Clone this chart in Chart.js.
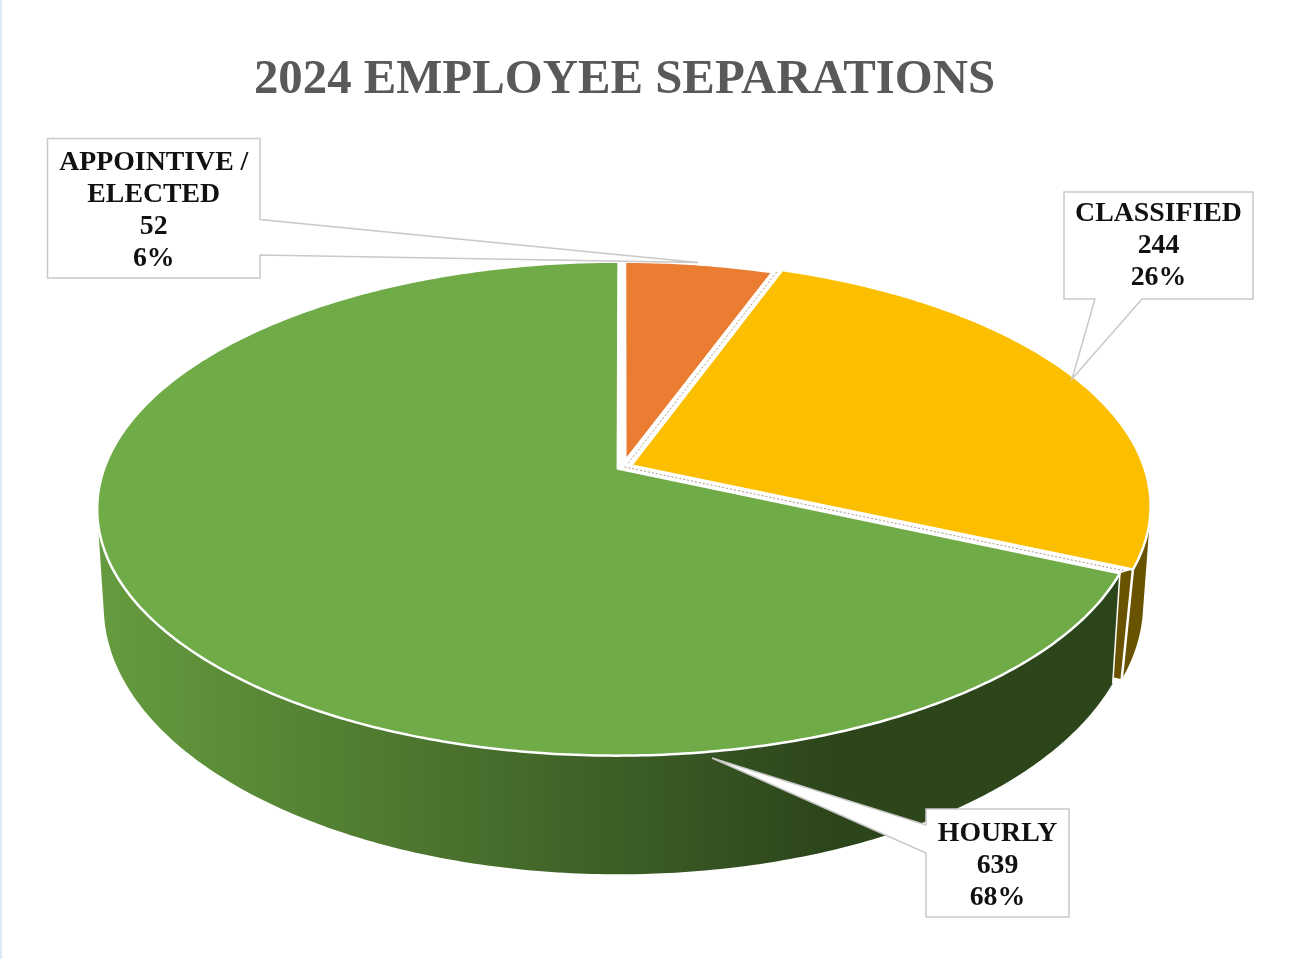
<!DOCTYPE html>
<html>
<head>
<meta charset="utf-8">
<title>2024 Employee Separations</title>
<script src="https://cdn.jsdelivr.net/npm/chart.js@4"></script>
<style>
  html, body { margin: 0; padding: 0; background: #fff; }
  body { width: 1299px; height: 959px; overflow: hidden; position: relative; }
  body::before { content: ""; position: absolute; left: 0; top: 0; bottom: 0; width: 2px; background: #dce9f8; }
  canvas { position: absolute; left: 0; top: 0; }
</style>
</head>
<body>
<canvas id="chart" width="1299" height="959"></canvas>
<script>
// Separation counts by employee category
const categories = ['APPOINTIVE / ELECTED', 'CLASSIFIED', 'HOURLY'];
const labelLines = [['APPOINTIVE /', 'ELECTED'], ['CLASSIFIED'], ['HOURLY']];
const separations = [52, 244, 639];

const sliceColors = ['#EA7D31', '#FBBF00', '#6FAB47'];
const sliceExplode = [10.4, 6.8, 4.8];
const rimScale = [0.967, 1, 1];

const FONT = '"Liberation Serif", "Times New Roman", serif';
const WALL_DARK = '#6A5300';

// Perspective projections of the pie's top face and bottom face
const topFace = { cx: 623, cy: 467, a: 513.1, b: 240, k: 0.162 };
const baseFace = { cx: 624.5, cy: 568.3, a: 510.4, b: 263, k: 0.134 };
const yellowBaseFace = { cx: 620.5, cy: 568.3, a: 510.4, b: 263, k: 0.134 };

// Callout boxes: frame plus the wedge pointing at the slice
const callouts = [
  { box: [47.5, 138.5, 260, 278], lineY: 163, pointer: [[260, 255], [698, 262.5], [260, 219.5]], side: 'right' },
  { box: [1064, 192, 1253, 299], lineY: 214, pointer: [[1142, 299], [1072, 379], [1095, 299]], side: 'bottom' },
  { box: [926, 809, 1069, 917], lineY: 834, pointer: [[926, 825], [712, 758], [926, 853]], side: 'left' }
];

function project(u, v, f) {
  const d = 1 - f.k * v;
  return [f.cx + f.a * u / d, f.cy + f.b * v / d];
}

// Maps a library arc angle to a point of the slice on a given face
function slicePoint(arc, i, clock, f, radial) {
  const e = arc.options.offset / arc.outerRadius;
  const mid = (arc.startAngle + arc.endAngle) / 2 + Math.PI / 2;
  const t = clock + Math.PI / 2;
  const r = radial * rimScale[i];
  return project(e * Math.sin(mid) + r * Math.sin(t), -e * Math.cos(mid) - r * Math.cos(t), f);
}

function addPolygon(ctx, pts) {
  pts.forEach((p, n) => (n ? ctx.lineTo(p[0], p[1]) : ctx.moveTo(p[0], p[1])));
  ctx.closePath();
}

function tracePoints(ctx, pts) {
  ctx.beginPath();
  addPolygon(ctx, pts);
}

function rimPoints(arc, i, from, to, f) {
  const steps = Math.max(8, Math.ceil(Math.abs(to - from) * 90));
  const pts = [];
  for (let s = 0; s <= steps; s++) pts.push(slicePoint(arc, i, from + (to - from) * s / steps, f, 1));
  return pts;
}

function drawTopFace(ctx, arc, i) {
  const pts = [slicePoint(arc, i, arc.startAngle, topFace, 0)]
    .concat(rimPoints(arc, i, arc.startAngle, arc.endAngle, topFace));
  tracePoints(ctx, pts);
  ctx.fillStyle = arc.options.backgroundColor;
  ctx.fill();
  ctx.strokeStyle = arc.options.borderColor;
  ctx.lineWidth = arc.options.borderWidth;
  ctx.lineJoin = 'round';
  ctx.stroke();
}

function signedArea(pts) {
  let s = 0;
  pts.forEach((p, n) => {
    const q = pts[(n + 1) % pts.length];
    s += p[0] * q[1] - q[0] * p[1];
  });
  return s;
}

// Side wall: one path of consistently wound quads, so the fill has no seams
function drawWall(ctx, arc, i, from, to, fill, base) {
  const a = rimPoints(arc, i, from, to, topFace);
  const b = rimPoints(arc, i, from, to, base);
  ctx.beginPath();
  for (let n = 0; n < a.length - 1; n++) {
    const quad = [a[n], a[n + 1], b[n + 1], b[n]];
    addPolygon(ctx, signedArea(quad) < 0 ? quad.reverse() : quad);
  }
  ctx.fillStyle = fill;
  ctx.fill('nonzero');
}

function drawEdgeLine(ctx, p, q, width) {
  ctx.beginPath();
  ctx.moveTo(p[0], p[1]);
  ctx.lineTo(q[0], q[1]);
  ctx.strokeStyle = '#fff';
  ctx.lineWidth = width;
  ctx.stroke();
}

// White slit between neighbouring slices with a faint dashed seam down its middle
function drawSlit(ctx, arcA, ia, arcB, ib, angle) {
  const a0 = slicePoint(arcA, ia, angle, topFace, 0);
  const a1 = slicePoint(arcA, ia, angle, topFace, 1);
  const b0 = slicePoint(arcB, ib, angle, topFace, 0);
  const b1 = slicePoint(arcB, ib, angle, topFace, 1);
  tracePoints(ctx, [a0, a1, b1, b0]);
  ctx.fillStyle = '#fff';
  ctx.fill();
  ctx.save();
  ctx.beginPath();
  ctx.moveTo((a0[0] + b0[0]) / 2, (a0[1] + b0[1]) / 2);
  ctx.lineTo((a1[0] + b1[0]) / 2, (a1[1] + b1[1]) / 2);
  ctx.setLineDash([2, 2]);
  ctx.strokeStyle = 'rgba(110,85,60,0.6)';
  ctx.lineWidth = 1;
  ctx.stroke();
  ctx.restore();
}

const pie3d = {
  id: 'pie3d',
  beforeDatasetsDraw(chart) {
    const ctx = chart.ctx;
    const [orange, yellow, green] = chart.getDatasetMeta(0).data;
    ctx.save();

    // Yellow slice: cut face, outer wall, then its top
    const cutAngle = yellow.endAngle;
    tracePoints(ctx, [
      slicePoint(yellow, 1, cutAngle, topFace, 0),
      slicePoint(yellow, 1, cutAngle, topFace, 1),
      slicePoint(yellow, 1, cutAngle, yellowBaseFace, 1),
      slicePoint(yellow, 1, cutAngle, yellowBaseFace, 0)
    ]);
    ctx.fillStyle = WALL_DARK;
    ctx.fill();
    drawWall(ctx, yellow, 1, yellow.startAngle + 0.6, cutAngle, WALL_DARK, yellowBaseFace);
    drawEdgeLine(ctx, slicePoint(yellow, 1, cutAngle, topFace, 1), slicePoint(yellow, 1, cutAngle, yellowBaseFace, 1), 2.5);
    drawTopFace(ctx, yellow, 1);
    drawTopFace(ctx, orange, 0);

    // Green slice: shaded wall across the front, then its top
    const shade = ctx.createLinearGradient(105, 0, 830, 0);
    shade.addColorStop(0, '#659B3E');
    shade.addColorStop(1, '#2C451B');
    drawWall(ctx, green, 2, green.startAngle, green.startAngle + 3.4, shade, baseFace);
    drawEdgeLine(ctx, slicePoint(green, 2, green.startAngle, topFace, 1), slicePoint(green, 2, green.startAngle, baseFace, 1), 1.5);
    drawSlit(ctx, yellow, 1, green, 2, yellow.endAngle);
    drawTopFace(ctx, green, 2);
    drawSlit(ctx, orange, 0, yellow, 1, orange.endAngle);

    ctx.restore();
    return false;
  },
  afterDraw(chart) {
    const ctx = chart.ctx;
    const total = separations.reduce((s, v) => s + v, 0);
    ctx.save();
    callouts.forEach((c, i) => {
      const [x0, y0, x1, y1] = c.box;
      const [p, tip, q] = c.pointer;
      const corners = {
        right: [[x0, y0], [x1, y0], q, tip, p, [x1, y1], [x0, y1]],
        bottom: [[x0, y0], [x1, y0], [x1, y1], p, tip, q, [x0, y1]],
        left: [[x0, y0], [x1, y0], [x1, y1], [x0, y1], q, tip, p]
      }[c.side];
      tracePoints(ctx, corners);
      ctx.fillStyle = '#fff';
      ctx.fill();
      ctx.strokeStyle = '#c9c9c9';
      ctx.lineWidth = 1.5;
      ctx.lineJoin = 'miter';
      ctx.stroke();

      const lines = labelLines[i].concat([String(separations[i]), Math.round(separations[i] / total * 100) + '%']);
      ctx.font = 'bold 27.8px ' + FONT;
      ctx.fillStyle = '#111';
      ctx.textAlign = 'center';
      ctx.textBaseline = 'middle';
      lines.forEach((t, n) => ctx.fillText(t, (x0 + x1) / 2, c.lineY + n * 32));
    });
    ctx.restore();
  }
};

new Chart(document.getElementById('chart'), {
  type: 'pie',
  data: {
    labels: categories,
    datasets: [{
      data: separations,
      backgroundColor: sliceColors,
      borderColor: '#fff',
      borderWidth: 2.5,
      offset: sliceExplode
    }]
  },
  options: {
    responsive: false,
    animation: false,
    devicePixelRatio: 1,
    radius: 400,
    layout: { padding: { right: 50 } },
    plugins: {
      legend: { display: false },
      tooltip: { enabled: false },
      title: {
        display: true,
        fullSize: false,
        text: '2024 EMPLOYEE SEPARATIONS',
        color: '#595959',
        font: { family: FONT, size: 48.8, weight: 'bold', lineHeight: 1.2 },
        padding: { top: 51, bottom: 0 }
      }
    }
  },
  plugins: [pie3d]
});
</script>
</body>
</html>
